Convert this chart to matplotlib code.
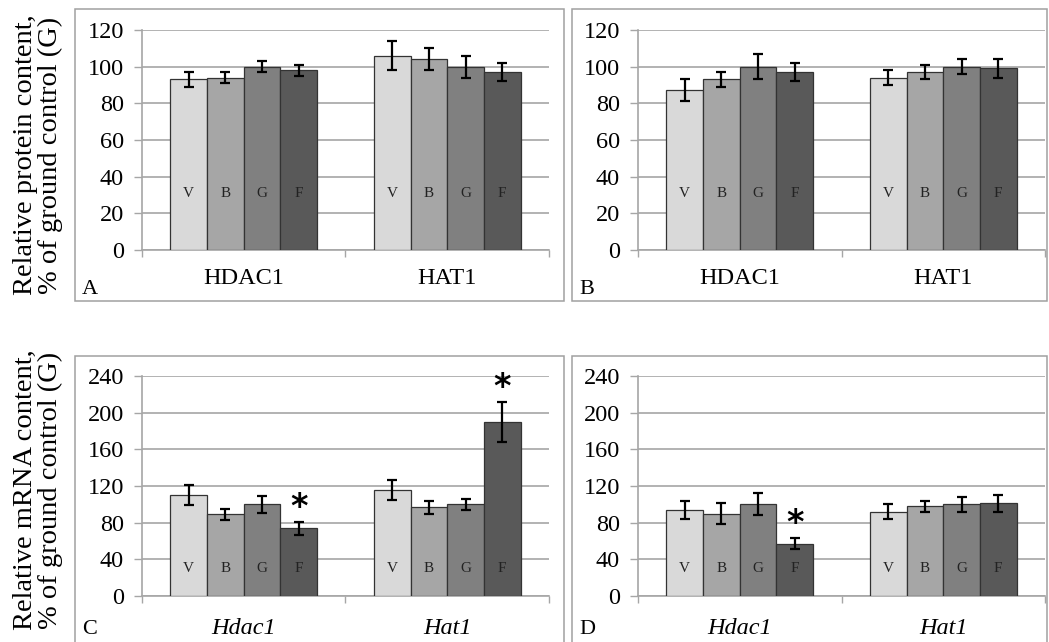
import numpy as np
import matplotlib
matplotlib.use("Agg")
import matplotlib.pyplot as plt
from matplotlib.patches import Rectangle

plt.rcParams["font.family"] = ["Liberation Serif", "DejaVu Serif"]

# ---- data ----
groups = ["V", "B", "G", "F"]
colors = ["#d9d9d9", "#a6a6a6", "#808080", "#595959"]

protein_genes = ["HDAC1", "HAT1"]
mrna_genes = ["Hdac1", "Hat1"]

# panel A: protein, rows = gene, cols = V, B, G, F
a_mean = [[93, 94, 100, 98], [106, 104, 100, 97]]
a_err = [[4, 3, 3, 3], [8, 6, 6, 5]]
# panel B: protein
b_mean = [[87, 93, 100, 97], [94, 97, 100, 99]]
b_err = [[6, 4, 7, 5], [4, 4, 4, 5]]
# panel C: mRNA
c_mean = [[110, 89, 100, 74], [116, 97, 100, 190]]
c_err = [[11, 6, 9, 7], [11, 7, 6, 22]]
c_sig = [[0, 0, 0, 1], [0, 0, 0, 1]]
# panel D: mRNA
d_mean = [[94, 90, 100, 57], [92, 98, 100, 101]]
d_err = [[10, 11, 12, 6], [8, 6, 8, 9]]
d_sig = [[0, 0, 0, 1], [0, 0, 0, 0]]

protein_ticks = [0, 20, 40, 60, 80, 100, 120]
mrna_ticks = [0, 40, 80, 120, 160, 200, 240]

W, H = 1049, 642
fig = plt.figure(figsize=(W / 100, H / 100), dpi=100)

GRID = "#a6a6a6"
BOX = "#a0a0a0"


def px_axes(left, top, right, bottom):
    return fig.add_axes([left / W, 1 - bottom / H, (right - left) / W, (bottom - top) / H])


def panel(ax, means, errs, sig, genes, ticks, italic, letter_y, xpad):
    width = 0.18
    offsets = (np.arange(4) - 1.5) * width
    ymax = ticks[-1]
    for gi in range(len(genes)):
        for k in range(4):
            x = gi + 0.5 + offsets[k]
            ax.bar(x, means[gi][k], width=width, color=colors[k],
                   edgecolor="#333333", linewidth=0.9, zorder=3)
            ax.errorbar(x, means[gi][k], yerr=errs[gi][k], fmt="none",
                        ecolor="black", elinewidth=1.6, capsize=3.5,
                        capthick=1.6, zorder=4)
            ax.text(x, letter_y, groups[k], ha="center", va="center",
                    fontsize=11, color="#222222", zorder=5)
            if sig is not None and sig[gi][k]:
                ax.text(x, means[gi][k] + errs[gi][k] + ymax * 0.065, "*",
                        ha="center", va="center", fontsize=24,
                        fontweight="bold", family="DejaVu Sans", zorder=5)
    ax.set_xlim(0, 2)
    ax.set_ylim(0, ymax)
    ax.set_yticks(ticks)
    ax.tick_params(axis="y", labelsize=17.5, length=6, width=1, color=GRID,
                   direction="out", pad=7)
    ax.set_xticks([0, 1, 2])
    ax.set_xticklabels([])
    ax.tick_params(axis="x", which="major", length=5, width=1, color=GRID,
                   direction="out")
    ax.set_xticks([0.5, 1.5], minor=True)
    ax.set_xticklabels(genes, minor=True, fontsize=17.5,
                       fontstyle="italic" if italic else "normal")
    ax.tick_params(axis="x", which="minor", length=0, pad=xpad)
    ax.yaxis.grid(True, color=GRID, linewidth=1.2, zorder=0)
    ax.set_axisbelow(True)
    for s in ("top", "right"):
        ax.spines[s].set_visible(False)
    for s in ("left", "bottom"):
        ax.spines[s].set_color(GRID)
        ax.spines[s].set_linewidth(1.2)


# frames around panels
frames = [(75, 9, 564, 301), (572, 9, 1047, 301),
          (75, 356, 564, 650), (572, 356, 1047, 650)]
for (l, t, r, b) in frames:
    fig.patches.append(Rectangle((l / W, 1 - b / H), (r - l) / W, (b - t) / H,
                                 transform=fig.transFigure, fill=False,
                                 edgecolor=BOX, linewidth=1.1))

axA = px_axes(142, 30, 549, 250)
axB = px_axes(638, 30, 1045, 250)
axC = px_axes(142, 376, 549, 596)
axD = px_axes(638, 376, 1045, 596)

panel(axA, a_mean, a_err, None, protein_genes, protein_ticks, False, 31, 13)
panel(axB, b_mean, b_err, None, protein_genes, protein_ticks, False, 31, 13)
panel(axC, c_mean, c_err, c_sig, mrna_genes, mrna_ticks, True, 30, 16)
panel(axD, d_mean, d_err, d_sig, mrna_genes, mrna_ticks, True, 30, 16)

# panel letters
for letter, (x, y) in zip("ABCD", [(82, 290), (579, 290), (82, 630), (579, 630)]):
    fig.text(x / W, 1 - y / H, letter, fontsize=16, ha="left", va="center")

fig.text(38 / W, 1 - 155 / H, "Relative protein content,\n% of ground control (G)",
         rotation=90, ha="center", va="center", fontsize=20.5, linespacing=1.0,
         multialignment="center")
fig.text(38 / W, 1 - 490 / H, "Relative mRNA content,\n% of ground control (G)",
         rotation=90, ha="center", va="center", fontsize=20.5, linespacing=1.0,
         multialignment="center")

fig.savefig("out.png", dpi=100)
